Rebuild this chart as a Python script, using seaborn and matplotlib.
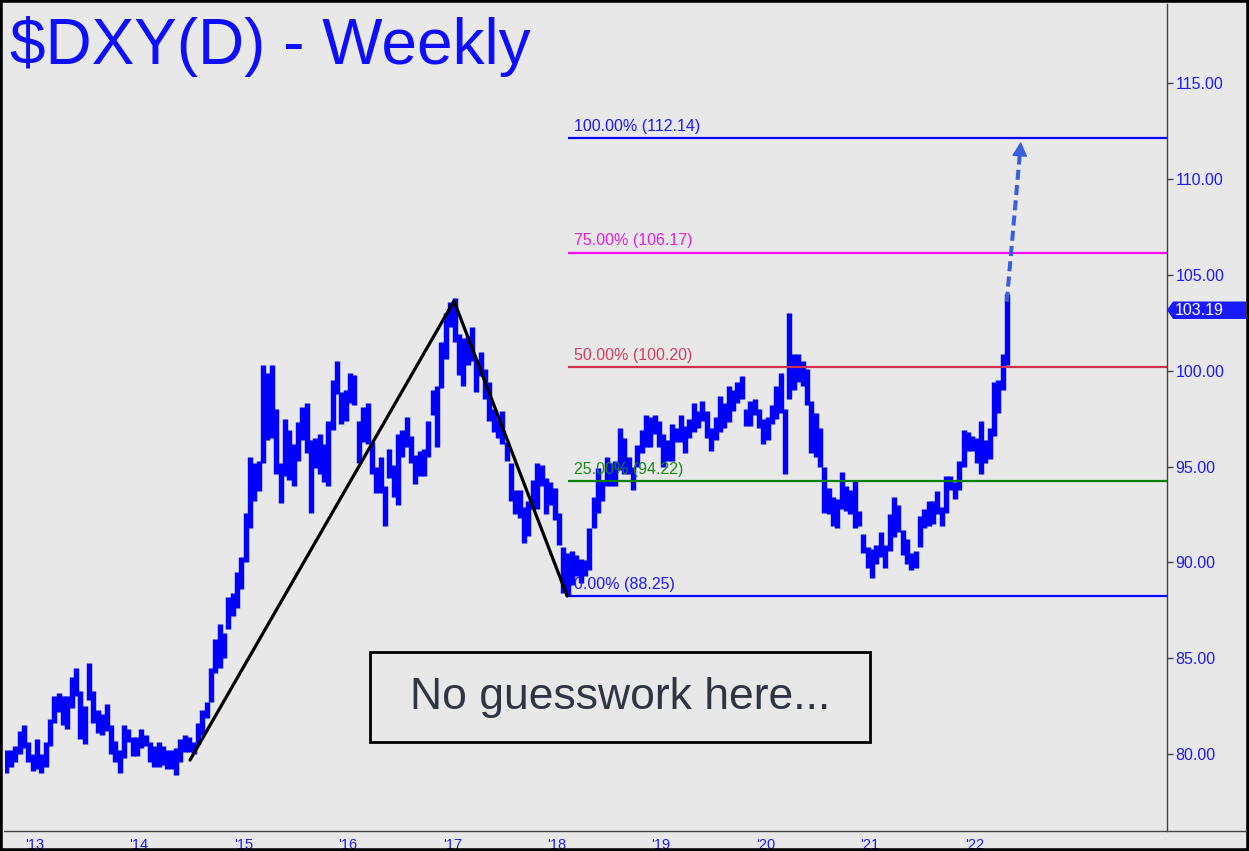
import numpy as np
import pandas as pd
import matplotlib
matplotlib.use("Agg")
import matplotlib.pyplot as plt
import seaborn as sns
from matplotlib.patches import Polygon, Rectangle
from matplotlib.lines import Line2D

# half-month bars (1st / 2nd half of each month), lows and highs
lo_2012 = [79.0, 79.3, 79.6, 80.0, 80.3, 79.6, 79.1]
hi_2012 = [80.2, 80.2, 80.4, 81.2, 81.5, 80.6, 80.0]
lo_2013 = [79.2, 79.0, 79.3, 80.4, 81.6, 82.2, 81.5, 81.3, 82.4, 83.0, 80.8, 80.5,
           82.8, 81.6, 81.1, 81.0, 81.2, 80.0, 79.6, 79.0, 79.8, 80.6, 79.9, 79.9]
hi_2013 = [80.8, 80.0, 80.6, 81.8, 83.0, 83.2, 83.0, 83.0, 84.0, 84.5, 83.3, 82.5,
           84.75, 83.3, 82.3, 82.1, 82.6, 81.5, 80.7, 80.2, 81.5, 81.3, 80.9, 80.9]
lo_2014 = [80.3, 80.4, 79.6, 79.3, 79.3, 79.4, 79.2, 79.2, 78.9, 79.6, 80.1, 80.1,
           80.0, 80.5, 81.0, 81.9, 82.7, 84.2, 84.5, 85.0, 86.5, 87.2, 87.6, 88.6]
hi_2014 = [81.3, 81.0, 80.6, 80.4, 80.6, 80.4, 80.2, 80.2, 80.3, 80.8, 81.0, 80.9,
           80.6, 81.6, 82.3, 82.7, 84.5, 86.0, 86.8, 86.3, 88.2, 88.4, 89.5, 90.3]
lo_2015 = [90.0, 91.8, 93.2, 93.7, 95.2, 96.4, 96.5, 94.6, 93.1, 94.5, 94.3, 94.0,
           95.3, 96.4, 95.7, 92.6, 94.9, 94.6, 94.2, 94.0, 96.9, 98.8, 97.2, 97.4]
hi_2015 = [92.6, 95.5, 95.2, 95.3, 100.3, 99.9, 100.3, 98.0, 95.2, 97.5, 96.9, 96.2,
           97.3, 98.1, 98.3, 96.4, 96.5, 96.7, 96.2, 97.4, 99.5, 100.5, 98.9, 99.0]
lo_2016 = [98.3, 98.2, 95.2, 96.3, 96.2, 94.6, 93.6, 93.6, 91.9, 94.4, 93.4, 93.0,
           95.5, 96.0, 95.2, 94.1, 94.5, 94.5, 95.5, 97.7, 96.0, 99.1, 100.6, 102.3]
hi_2016 = [99.9, 99.8, 97.4, 98.1, 98.3, 96.3, 95.0, 95.5, 94.0, 95.9, 95.1, 96.7,
           96.9, 97.6, 96.6, 95.6, 95.8, 95.9, 97.4, 99.0, 99.2, 101.5, 103.0, 103.6]
lo_2017 = [101.5, 99.8, 99.2, 100.3, 100.5, 98.9, 99.7, 98.5, 97.4, 96.8, 96.5, 96.2,
           95.3, 93.2, 92.5, 92.3, 91.0, 91.4, 92.8, 92.8, 94.0, 92.5, 93.0, 92.2]
hi_2017 = [103.8, 101.9, 101.7, 101.8, 102.3, 100.6, 101.0, 100.1, 99.4, 98.0, 97.5, 97.9,
           96.3, 95.2, 93.8, 93.8, 92.9, 93.2, 94.3, 95.2, 95.1, 94.4, 94.2, 93.9]
lo_2018 = [90.9, 88.4, 88.25, 88.8, 89.3, 88.9, 89.3, 89.6, 91.8, 92.6, 93.2, 94.0,
           94.0, 94.0, 94.8, 94.6, 94.6, 93.8, 95.0, 95.7, 96.0, 96.0, 96.7, 96.0]
hi_2018 = [92.6, 90.8, 90.5, 90.6, 90.4, 90.2, 90.1, 91.8, 93.4, 94.9, 94.3, 95.5,
           95.2, 95.3, 97.0, 96.5, 95.5, 95.0, 96.1, 96.9, 97.7, 97.6, 97.7, 97.4]
lo_2019 = [95.0, 95.3, 95.3, 96.3, 96.3, 95.7, 96.5, 96.8, 97.0, 97.4, 96.5, 95.8,
           96.4, 96.8, 97.0, 97.3, 97.9, 98.3, 98.5, 97.1, 97.1, 97.7, 97.0, 96.2]
hi_2019 = [96.7, 96.4, 97.2, 97.0, 97.7, 97.1, 97.5, 98.3, 97.9, 98.4, 97.9, 97.0,
           97.6, 98.7, 98.3, 99.2, 99.0, 99.4, 99.7, 98.0, 98.4, 98.5, 98.0, 97.5]
lo_2020 = [96.4, 97.2, 97.5, 97.8, 94.6, 98.5, 99.0, 99.4, 99.2, 98.2, 95.7, 95.5,
           95.0, 92.6, 92.5, 91.9, 91.8, 92.8, 92.7, 92.5, 91.8, 91.9, 90.5, 89.7]
hi_2020 = [97.6, 98.2, 99.2, 99.9, 98.0, 103.0, 100.9, 100.9, 100.5, 100.1, 98.4, 97.8,
           97.0, 95.0, 93.9, 93.4, 93.3, 94.7, 94.0, 93.8, 94.3, 92.7, 91.5, 90.8]
lo_2021 = [89.2, 89.9, 90.3, 89.7, 90.6, 91.3, 91.6, 90.4, 89.9, 89.6, 89.7, 90.8,
           91.8, 91.9, 92.0, 92.5, 91.9, 92.6, 93.8, 93.3, 93.8, 95.0, 95.8, 95.8]
hi_2021 = [90.7, 90.9, 91.6, 90.9, 92.5, 93.4, 93.0, 91.7, 91.2, 90.5, 90.6, 92.4,
           92.8, 93.2, 93.2, 93.7, 92.9, 94.5, 94.5, 94.2, 95.3, 96.9, 96.8, 96.6]
lo_2022 = [95.2, 94.6, 95.2, 95.4, 96.6, 97.8, 99.0, 100.3]
hi_2022 = [96.5, 97.4, 96.4, 97.0, 99.4, 99.5, 100.9, 104.0]

last_close = 103.19

# fib projection levels
fib_names = ["100.00%", "75.00%", "50.00%", "25.00%", "0.00%"]
fib_values = [112.14, 106.17, 100.20, 94.22, 88.25]
fib_colors = ["#0000ff", "#ff00ff", "#d0304f", "#008000", "#0000ff"]
fib_text_colors = ["#1a1aff", "#e020e0", "#d0405e", "#1a8a1a", "#1a1aff"]

# black swing lines
swing_x = [2014.487, 2017.016, 2018.10]
swing_y = [79.68, 103.64, 88.24]

# dashed projection arrow
arrow_from = (2022.31, 103.6)
arrow_to = (2022.444, 111.95)

year_lists = {
    2012: (lo_2012, hi_2012), 2013: (lo_2013, hi_2013), 2014: (lo_2014, hi_2014),
    2015: (lo_2015, hi_2015), 2016: (lo_2016, hi_2016), 2017: (lo_2017, hi_2017),
    2018: (lo_2018, hi_2018), 2019: (lo_2019, hi_2019), 2020: (lo_2020, hi_2020),
    2021: (lo_2021, hi_2021), 2022: (lo_2022, hi_2022),
}

rows = []
for yr, (lo, hi) in year_lists.items():
    first = 17 if yr == 2012 else 0
    for k, (a, b) in enumerate(zip(lo, hi)):
        rows.append({"t": yr + (first + k + 0.5) / 24, "low": a, "high": b})
df = pd.DataFrame(rows)

W, H = 1249, 851
BG = "#e8e8e8"
BLUE = "#0000ff"

sns.set_theme(style="white")
plt.rcParams["font.family"] = ["Liberation Sans", "DejaVu Sans"]

fig = plt.figure(figsize=(W / 100, H / 100), dpi=100, facecolor=BG)


def fx(px):
    return px / W


def fy(py):
    return 1 - py / H


ax = fig.add_axes([fx(5), fy(831), fx(1167) - fx(5), fy(4) - fy(831)])
ax.set_facecolor(BG)
ax.set_xlim(2012.715, 2023.845)
ax.set_ylim(75.98, 119.14)

# price bars
ax.vlines(df["t"], df["low"], df["high"], color=BLUE, lw=3.9)

# fib lines and labels
for name, val, c, tc in zip(fib_names, fib_values, fib_colors, fib_text_colors):
    ax.hlines(val, 2018.104, 2023.845, color=c, lw=1.6)
    ax.annotate(f"{name} ({val:.2f})", xy=(2018.165, val), xytext=(0, 3),
                textcoords="offset points", color=tc, fontsize=11.5,
                ha="left", va="bottom")

# swing lines
sns.lineplot(x=swing_x, y=swing_y, color="black", lw=2.3, sort=False, ax=ax)

# dashed arrow
ax.plot([arrow_from[0], 2022.436], [arrow_from[1], 111.35], color="#3a5ee0",
        lw=2.9, ls=(0, (2.5, 1.3)), solid_capstyle="butt")
ax.annotate("", xy=arrow_to, xytext=(2022.43, 110.9),
            arrowprops=dict(arrowstyle="-|>,head_length=0.6,head_width=0.32",
                            mutation_scale=15, color="#3a5ee0", lw=1,
                            shrinkA=0, shrinkB=0))

# axes styling
for s in ["left", "top", "bottom"]:
    ax.spines[s].set_visible(False)
ax.spines["right"].set_color("#444444")
ax.spines["right"].set_linewidth(1)
ax.yaxis.tick_right()
ax.set_yticks([80, 85, 90, 95, 100, 105, 110, 115])
ax.set_yticklabels([f"{v:.2f}" for v in [80, 85, 90, 95, 100, 105, 110, 115]])
ax.tick_params(axis="y", direction="out", length=4.5, width=1, color="#444444",
               labelcolor="#1a1aff", labelsize=11.5, pad=1.5)

years = list(range(2013, 2023))
ax.set_xticks(years)
ax.set_xticklabels([f"'{y % 100:02d}" for y in years])
quarters = [q / 4 for q in range(2012 * 4 + 3, 2022 * 4 + 2) if q % 4 != 0]
ax.set_xticks(quarters, minor=True)
ax.tick_params(axis="x", which="major", direction="out", length=4.5, width=1,
               color="#444444", labelcolor="#1a1aff", labelsize=10.5, pad=0.5)
ax.tick_params(axis="x", which="minor", direction="out", length=2.5, width=1,
               color="#444444")
ax.grid(False)

# bottom axis line runs the full width
fig.lines.append(Line2D([fx(4), fx(1246)], [fy(831), fy(831)], color="#444444",
                        lw=1, transform=fig.transFigure))

# last price tag
tag = [(1167, 310), (1173, 301.5), (1246, 301.5), (1246, 319), (1173, 319)]
fig.patches.append(Polygon([(fx(a), fy(b)) for a, b in tag], closed=True,
                           transform=fig.transFigure, fc="#1a1aff", ec="none"))
fig.text(fx(1175), fy(310.5), f"{last_close:.2f}", color="white", fontsize=11.5,
         ha="left", va="center")

# title
fig.text(fx(10), fy(63.6), r"\$DXY(D) - Weekly", fontsize=46, color="#0d0dff",
         ha="left", va="baseline")

# comment box
fig.patches.append(Rectangle((fx(370), fy(742)), fx(500), 90 / H, fill=False,
                             ec="black", lw=2, transform=fig.transFigure))
fig.text(fx(620), fy(697), "No guesswork here...", fontsize=32, color="#2f3542",
         ha="center", va="center")

# outer frame
fig.patches.append(Rectangle((0, 0), 1, 1, fill=False, ec="black", lw=4,
                             transform=fig.transFigure))

fig.savefig("out.png", dpi=100, facecolor=BG)
